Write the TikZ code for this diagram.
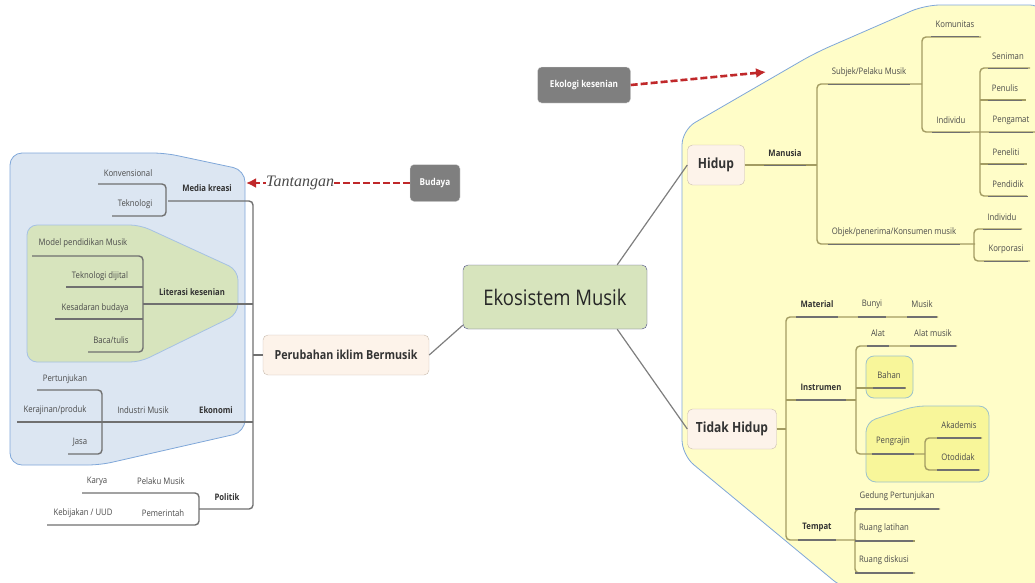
\documentclass[tikz,border=0pt]{standalone}
\usepackage{fontspec}
\setmainfont{Open Sans}[FakeStretch=0.86]
\newfontfamily\tantfont{Liberation Serif}
\usetikzlibrary{arrows.meta}

\definecolor{lngrey}{HTML}{707070}
\definecolor{lnolive}{HTML}{A39C62}
\definecolor{txtgrey}{HTML}{4A4A4A}
\definecolor{txtdark}{HTML}{333333}
\definecolor{bluefill}{HTML}{DCE6F2}
\definecolor{blueline}{HTML}{7FA7D9}
\definecolor{greenfill}{HTML}{D7E4BD}
\definecolor{yelfill}{HTML}{FFFDC8}
\definecolor{hlfill}{HTML}{F8F69A}
\definecolor{hlline}{HTML}{9CC2CC}
\definecolor{peach}{HTML}{FDF3EA}
\definecolor{peachline}{HTML}{C9BBAE}
\definecolor{boxgrey}{HTML}{7F7F7F}
\definecolor{arrowred}{HTML}{C0282A}

\begin{document}
\begin{tikzpicture}[x=1pt,y=-1pt,
    lbl/.style={font=\fontsize{9}{10}\selectfont, text=txtgrey, inner sep=1pt},
    bld/.style={font=\fontsize{9}{10}\selectfont\bfseries, text=txtdark, inner sep=1pt},
    ul/.style={append after command={([shift={(-3pt,-12.5pt)}]\tikzlastnode.west)
        edge[draw=lngrey, line width=1.4pt] ([shift={(3pt,-12.5pt)}]\tikzlastnode.east)}},
    lnl/.style={draw=lngrey, line width=1.4pt, rounded corners=4pt},
    lnr/.style={draw=lnolive, line width=1.4pt, rounded corners=4pt},
    topic/.style={draw=peachline, fill=peach, rounded corners=5pt, text=txtdark, inner sep=2pt},
    greybox/.style={draw=white!80!boxgrey, fill=boxgrey, rounded corners=4pt, text=white,
        font=\fontsize{9.5}{11}\selectfont\bfseries, inner sep=2pt},
    redarrow/.style={draw=arrowred, line width=2.6pt, dash pattern=on 7pt off 3pt,
        -{Latex[length=10pt,width=10pt]}},
    connector/.style={draw=lngrey!90, line width=1.2pt}]
    \useasboundingbox (0,0) rectangle (1035,582);

    % regions
    \draw[blueline, fill=bluefill, line width=0.8pt, rounded corners=12pt]
        (10,153) -- (165,153) -- (245,170) -- (245,432) -- (100,465) -- (10,465) -- cycle;
    \draw[blueline!70, fill=greenfill, line width=0.8pt, rounded corners=10pt]
        (27,225) -- (140,225) -- (238,270) -- (238,314) -- (140,362) -- (27,362) -- cycle;
    \draw[blueline, fill=yelfill, line width=0.8pt, rounded corners=15pt]
        (1045,5) -- (925,5) -- (815,53) -- (682,130) -- (682,455) -- (845,590) -- (1045,590) -- cycle;
    \draw[hlline, fill=hlfill, line width=0.8pt, rounded corners=8pt] (866,356) rectangle (913,398);
    \draw[hlline, fill=hlfill, line width=0.8pt, rounded corners=10pt]
        (866,482) -- (866,422) -- (915,406) -- (989,406) -- (989,482) -- cycle;

    % central topics
    \node[draw=black!45!blue!40!gray, fill=greenfill, rounded corners=5pt, text=black!85,
        minimum width=184pt, minimum height=64pt, font=\fontsize{21.5}{25}\selectfont] (eko) at (555,297) {Ekosistem Musik};
    \node[topic, minimum width=166pt, minimum height=40pt, font=\fontsize{12.5}{14}\selectfont\bfseries] (perubahan) at (346,355) {Perubahan iklim Bermusik};
    \node[topic, minimum width=57pt, minimum height=40pt, font=\fontsize{14}{16}\selectfont\bfseries] (hidup) at (716,165) {Hidup};
    \node[topic, minimum width=89pt, minimum height=40pt, font=\fontsize{14}{16}\selectfont\bfseries] (tdkhidup) at (732,429) {Tidak Hidup};
    \node[greybox, minimum width=93pt, minimum height=36pt] (ekologi) at (584,85) {Ekologi kesenian};
    \node[greybox, minimum width=50pt, minimum height=37pt] (budaya) at (435,183) {Budaya};

    \draw[connector] (perubahan.east) -- ([shift={(0,-4)}]eko.south west);
    \draw[connector] ([shift={(-30,0)}]eko.north east) -- (hidup.west);
    \draw[connector] ([shift={(-30,0)}]eko.south east) -- (tdkhidup.west);

    \coordinate (ekoTip) at (766,72);
    \coordinate (mediaTip) at (246,183);
    \draw[redarrow] (ekologi.east) -- (ekoTip);
    \draw[redarrow] (budaya.west) -- node[pos=0.67, fill=white, inner sep=0pt, text=txtgrey,
        font=\tantfont\itshape\fontsize{16}{17}\selectfont] (tantangan) {Tantangan} (mediaTip);

    % left branch
    \draw[lnl] (168,201) -- (253,201) -- (253,509) -- (199,509);
    \draw[lnl] (perubahan.west) -- (253,355);
    \draw[lnl] (143,304) -- (253,304);
    \draw[lnl] (17,422) -- (253,422);
    \draw[lnl] (98,184) -- (166,184) -- (166,216) -- (112,216);
    \draw[lnl] (32,256) -- (143,256) -- (143,352) -- (88,352);
    \draw[lnl] (66,287) -- (143,287);
    \draw[lnl] (55,319) -- (143,319);
    \draw[lnl] (37,390) -- (102,390) -- (102,454) -- (68,454);
    \draw[lnl] (82,493) -- (199,493) -- (199,525) -- (47,525);

    \node[bld] (media) at (207,188) {Media kreasi};
    \node[lbl] (konvensional) at (128,173) {Konvensional};
    \node[lbl] (teknologi) at (135,204) {Teknologi};
    \node[bld] (literasi) at (192,292) {Literasi kesenian};
    \node[lbl] (modelpend) at (83,243) {Model pendidikan Musik};
    \node[lbl] (tekdijital) at (100,276) {Teknologi dijital};
    \node[lbl] (kesadaran) at (95,308) {Kesadaran budaya};
    \node[lbl] (baca) at (111,340) {Baca/tulis};
    \node[bld] (ekonomi) at (216,410) {Ekonomi};
    \node[lbl] (industri) at (143,410) {Industri Musik};
    \node[lbl] (pertunjukan) at (65,379) {Pertunjukan};
    \node[lbl] (kerajinan) at (55,410) {Kerajinan/produk};
    \node[lbl] (jasa) at (80,442) {Jasa};
    \node[bld] (politik) at (227,497) {Politik};
    \node[lbl] (pelaku) at (161,481) {Pelaku Musik};
    \node[lbl] (karya) at (97,481) {Karya};
    \node[lbl] (pemerintah) at (163,513) {Pemerintah};
    \node[lbl] (kebijakan) at (83,513) {Kebijakan / UUD};

    % right branch: hidup
    \draw[lnr] (hidup.east) -- (817,165);
    \draw[lnr] (922,84) -- (817,84) -- (817,244) -- (975,244);
    \draw[lnr] (981,37) -- (922,37) -- (922,132) -- (1035,132);
    \draw[lnr] (1030,68) -- (980,68) -- (980,196) -- (1027,196);
    \draw[lnr] (980,100) -- (1026,100);
    \draw[lnr] (980,164) -- (1027,164);
    \draw[lnr] (1022,229) -- (974,229) -- (974,261) -- (1030,261);

    \node[bld, ul] (manusia) at (785,153) {Manusia};
    \node[lbl, ul] (subjek) at (869,72) {Subjek/Pelaku Musik};
    \node[lbl, ul] (komunitas) at (955,24) {Komunitas};
    \node[lbl, ul] (individu) at (951,120) {Individu};
    \node[lbl, ul] (seniman) at (1008,56) {Seniman};
    \node[lbl, ul] (penulis) at (1005,88) {Penulis};
    \node[lbl, ul] (pengamat) at (1011,120) {Pengamat};
    \node[lbl, ul] (peneliti) at (1006,152) {Peneliti};
    \node[lbl, ul] (pendidik) at (1008,184) {Pendidik};
    \node[lbl, ul] (objek) at (894,232) {Objek/penerima/Konsumen musik};
    \node[lbl, ul] (individub) at (1002,217) {Individu};
    \node[lbl, ul] (korporasi) at (1006,249) {Korporasi};

    % right branch: tidak hidup
    \draw[lnr] (938,317) -- (786,317) -- (786,540) -- (856,540);
    \draw[lnr] (tdkhidup.east) -- (786,429);
    \draw[lnr] (786,400) -- (856,400);
    \draw[lnr] (957,346) -- (856,346) -- (856,454) -- (925,454);
    \draw[lnr] (856,388) -- (906,388);
    \draw[lnr] (982,438) -- (925,438) -- (925,470) -- (980,470);
    \draw[lnr] (940,509) -- (855,509) -- (855,573) -- (915,573);
    \draw[lnr] (855,541) -- (915,541);

    \node[bld, ul] (material) at (817,304.5) {Material};
    \node[lbl, ul] (bunyi) at (872,304.5) {Bunyi};
    \node[lbl, ul] (musik) at (922,304.5) {Musik};
    \node[bld, ul] (instrumen) at (821,387.5) {Instrumen};
    \node[lbl, ul] (alat) at (878,333.5) {Alat};
    \node[lbl, ul] (alatmusik) at (933,333.5) {Alat musik};
    \node[lbl, ul] (bahan) at (889,375.5) {Bahan};
    \node[lbl, ul] (pengrajin) at (893,441.5) {Pengrajin};
    \node[lbl, ul] (akademis) at (959,425.5) {Akademis};
    \node[lbl, ul] (otodidak) at (958,457.5) {Otodidak};
    \node[bld, ul] (tempat) at (817,527.5) {Tempat};
    \node[lbl, ul] (gedung) at (897,496.5) {Gedung Pertunjukan};
    \node[lbl, ul] (latihan) at (884,528.5) {Ruang latihan};
    \node[lbl, ul] (diskusi) at (884,560.5) {Ruang diskusi};
\end{tikzpicture}
\end{document}
